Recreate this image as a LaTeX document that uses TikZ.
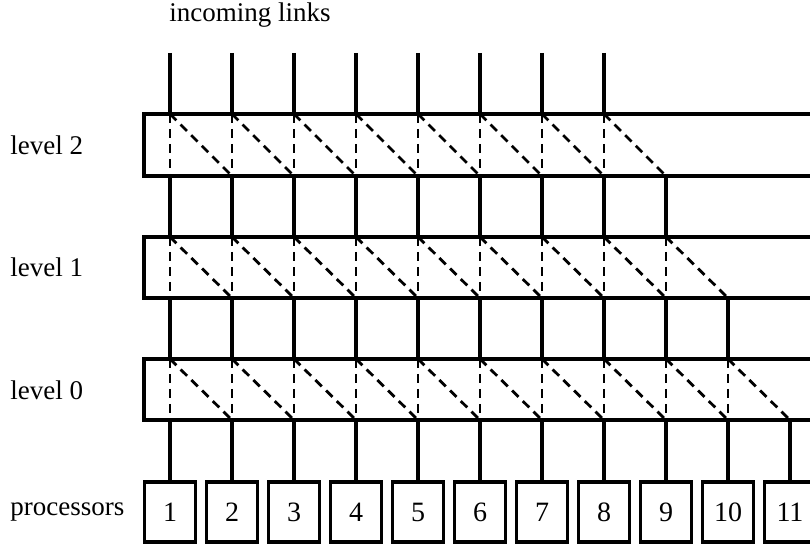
\documentclass[tikz,border=0pt]{standalone}
\usepackage{fontspec}
\setmainfont{Liberation Serif}
\begin{document}
\begin{tikzpicture}[x=0.5pt,y=-0.5pt,
  link/.style={line width=1.8pt},
  dlink/.style={line width=1.4pt, dash pattern=on 4.5pt off 3pt},
  frame/.style={line width=1.8pt},
  proc/.style={draw, line width=1.6pt, minimum width=25.5pt, minimum height=30pt, inner sep=0pt, font=\fontsize{14}{16}\selectfont},
  lbl/.style={anchor=west, inner sep=0pt, font=\fontsize{13.5}{16}\selectfont}]
\useasboundingbox (0,0) rectangle (810,545);
\clip (0,0) rectangle (810,545);
\fill[white] (0,0) rectangle (810,545);
% column coordinates
\foreach \i in {1,...,11} {
  \pgfmathsetmacro\x{170+(\i-1)*62}
  \coordinate (in\i) at (\x,53);
  \coordinate (t2\i) at (\x,114);
  \coordinate (b2\i) at (\x,176);
  \coordinate (t1\i) at (\x,237);
  \coordinate (b1\i) at (\x,298);
  \coordinate (t0\i) at (\x,359);
  \coordinate (b0\i) at (\x,420);
  \node[proc] (p\i) at (\x,512) {\i};
}
% level frames (open to the right)
\draw[frame] (812,114) -- (144,114) -- (144,176) -- (812,176);
\draw[frame] (812,237) -- (144,237) -- (144,298) -- (812,298);
\draw[frame] (812,359) -- (144,359) -- (144,420) -- (812,420);
% labels
\node (title) at (250,15) [inner sep=0pt, font=\fontsize{13.5}{16}\selectfont] {incoming links};
\node[lbl] (l2) at (10,145) {level 2};
\node[lbl] (l1) at (10,267) {level 1};
\node[lbl] (l0) at (10,390) {level 0};
\node[lbl] (pl) at (10,512) {processors};
% incoming links
\foreach \i in {1,...,8} { \draw[link] (in\i) -- (t2\i); }
% level 2
\foreach \i [evaluate=\i as \j using int(\i+1)] in {1,...,8} {
  \draw[dlink] (t2\i) -- (b2\i);
  \draw[dlink] (t2\i) -- (b2\j);
}
\foreach \i in {1,...,9} { \draw[link] (b2\i) -- (t1\i); }
% level 1
\foreach \i [evaluate=\i as \j using int(\i+1)] in {1,...,9} {
  \draw[dlink] (t1\i) -- (b1\i);
  \draw[dlink] (t1\i) -- (b1\j);
}
\foreach \i in {1,...,10} { \draw[link] (b1\i) -- (t0\i); }
% level 0
\foreach \i [evaluate=\i as \j using int(\i+1)] in {1,...,10} {
  \draw[dlink] (t0\i) -- (b0\i);
  \draw[dlink] (t0\i) -- (b0\j);
}
\foreach \i in {1,...,11} { \draw[link] (b0\i) -- (p\i.north); }
\end{tikzpicture}
\end{document}
